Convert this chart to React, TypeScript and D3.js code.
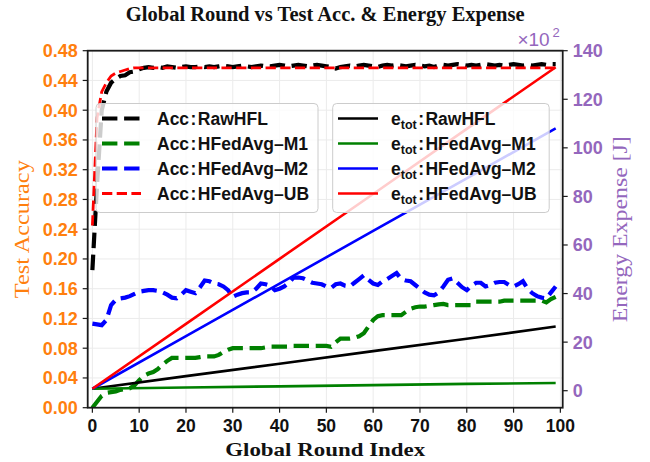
import * as d3 from 'd3';

// Global round index 0..99 (x categories)
const ROUNDS = d3.range(100);

// Test accuracy per round (left axis)
const ACC_RAWHFL = [
  0.185, 0.3, 0.4, 0.425, 0.437, 0.442, 0.446, 0.447, 0.451, 0.452,
  0.455, 0.457, 0.458, 0.457, 0.458, 0.457, 0.459, 0.458, 0.457, 0.458,
  0.459, 0.458, 0.458, 0.459, 0.458, 0.459, 0.458, 0.459, 0.46, 0.459,
  0.458, 0.459, 0.46, 0.459, 0.458, 0.459, 0.46, 0.459, 0.459, 0.46,
  0.461, 0.46, 0.459, 0.46, 0.461, 0.46, 0.459, 0.46, 0.461, 0.46,
  0.459, 0.458, 0.456, 0.458, 0.459, 0.46, 0.459, 0.46, 0.461, 0.46,
  0.459, 0.458, 0.46, 0.461, 0.46, 0.461, 0.46, 0.459, 0.46, 0.461,
  0.46, 0.459, 0.46, 0.458, 0.46, 0.461, 0.46, 0.461, 0.462, 0.461,
  0.46, 0.461, 0.46, 0.461, 0.462, 0.461, 0.46, 0.461, 0.46, 0.461,
  0.462, 0.461, 0.46, 0.461, 0.46, 0.461, 0.462, 0.461, 0.462, 0.462,
];
const ACC_M1 = [
  0.0, 0.008, 0.016, 0.02, 0.021, 0.022, 0.024, 0.025, 0.026, 0.03,
  0.037, 0.043, 0.046, 0.048, 0.052, 0.058, 0.063, 0.067, 0.067, 0.067,
  0.067, 0.067, 0.067, 0.068, 0.069, 0.069, 0.069, 0.071, 0.075, 0.078,
  0.08, 0.08, 0.08, 0.08, 0.08, 0.08, 0.08, 0.081, 0.082, 0.082,
  0.082, 0.082, 0.082, 0.083, 0.083, 0.083, 0.083, 0.083, 0.083, 0.083,
  0.083, 0.082, 0.088, 0.093, 0.093, 0.093, 0.094, 0.096, 0.1, 0.109,
  0.118, 0.123, 0.1245, 0.1245, 0.1245, 0.1245, 0.1245, 0.129, 0.133, 0.135,
  0.136, 0.136, 0.137, 0.138, 0.139, 0.1395, 0.138, 0.138, 0.138, 0.138,
  0.138, 0.138, 0.1425, 0.1425, 0.1425, 0.1425, 0.1425, 0.1425, 0.144, 0.144,
  0.144, 0.144, 0.144, 0.144, 0.144, 0.144, 0.144, 0.1415, 0.146, 0.149,
];
const ACC_M2 = [
  0.113, 0.112, 0.111, 0.118, 0.138, 0.145, 0.147, 0.148, 0.15, 0.153,
  0.156, 0.157, 0.158, 0.158, 0.157, 0.155, 0.152, 0.148, 0.147, 0.152,
  0.158, 0.156, 0.154, 0.162, 0.171, 0.17, 0.167, 0.166, 0.163, 0.158,
  0.149, 0.152, 0.154, 0.155, 0.155, 0.16, 0.167, 0.166, 0.164, 0.158,
  0.16, 0.163, 0.168, 0.175, 0.175, 0.174, 0.171, 0.168, 0.167, 0.166,
  0.163, 0.161, 0.166, 0.167, 0.164, 0.163, 0.168, 0.173, 0.178, 0.172,
  0.167, 0.165, 0.17, 0.173, 0.177, 0.181, 0.173, 0.171, 0.17, 0.165,
  0.16, 0.155, 0.152, 0.151, 0.155, 0.163, 0.172, 0.174, 0.168, 0.162,
  0.158, 0.164, 0.168, 0.168, 0.163, 0.165, 0.168, 0.169, 0.169, 0.165,
  0.163, 0.166, 0.17, 0.16, 0.154, 0.15, 0.148, 0.147, 0.155, 0.163,
];
const ACC_UB = [
  0.245, 0.39, 0.425, 0.437, 0.446, 0.45, 0.452, 0.454, 0.456, 0.457,
  0.457, 0.457, 0.457, 0.457, 0.457, 0.457, 0.457, 0.457, 0.457, 0.457,
  0.457, 0.457, 0.457, 0.457, 0.457, 0.457, 0.457, 0.457, 0.457, 0.457,
  0.457, 0.457, 0.457, 0.457, 0.457, 0.457, 0.457, 0.457, 0.457, 0.457,
  0.457, 0.457, 0.457, 0.457, 0.457, 0.457, 0.457, 0.457, 0.457, 0.457,
  0.457, 0.457, 0.457, 0.457, 0.457, 0.457, 0.457, 0.457, 0.457, 0.457,
  0.457, 0.457, 0.457, 0.457, 0.457, 0.457, 0.457, 0.457, 0.457, 0.457,
  0.457, 0.457, 0.457, 0.457, 0.457, 0.457, 0.457, 0.457, 0.457, 0.457,
  0.457, 0.457, 0.457, 0.457, 0.457, 0.457, 0.457, 0.457, 0.457, 0.457,
  0.457, 0.457, 0.457, 0.457, 0.457, 0.457, 0.457, 0.457, 0.457, 0.457,
];

// Total energy expense (right axis, in units of 10^2 J), read at a few rounds
const ENERGY_ROUNDS = [0, 20, 40, 60, 80, 99];
const ENERGY_RAWHFL = [0.8, 6.0, 11.1, 16.3, 21.4, 26.4];
const ENERGY_M1 = [0.8, 1.3, 1.8, 2.3, 2.8, 3.2];
const ENERGY_M2 = [0.8, 22.5, 44.1, 65.8, 87.4, 108];
const ENERGY_UB = [0.8, 27.5, 54.3, 81.0, 107.8, 133.2];

const METHODS = ['RawHFL', 'HFedAvg\u2013M1', 'HFedAvg\u2013M2', 'HFedAvg\u2013UB'];
const METHOD_COLORS = ['#000000', '#008000', '#0000ff', '#ff0000'];

const X_TICKS = d3.range(0, 101, 10);
const ACC_TICKS = [0, 0.04, 0.08, 0.12, 0.16, 0.2, 0.24, 0.28, 0.32, 0.36, 0.4, 0.44, 0.48];
const ENERGY_TICKS = [0, 20, 40, 60, 80, 100, 120, 140];

const WIDTH = 650;
const HEIGHT = 462;
const PLOT = { left: 87.7, right: 562.7, top: 50.7, bottom: 407.7 };

const ORANGE = '#ff7f0e';
const PURPLE = '#9467bd';
const SERIF = '"Liberation Serif", "DejaVu Serif", serif';
const SANS = '"Liberation Sans", Arial, sans-serif';

const THICK_DASH = { width: 4.2, dash: '15.4 6.7' };
const THIN_DASH = { width: 2.8, dash: '10.3 4.4' };

export default function App() {
  const x = d3.scaleLinear().domain([-1, 100.5]).range([PLOT.left, PLOT.right]);
  const yAcc = d3.scaleLinear().domain([0, 0.48]).range([PLOT.bottom, PLOT.top]);
  const yEnergy = d3.scaleLinear().domain([-7, 140]).range([PLOT.bottom, PLOT.top]);

  const accLine = d3
    .line<number>()
    .x((_, i) => x(ROUNDS[i]))
    .y((d) => yAcc(d));
  const energyLine = d3
    .line<number>()
    .x((_, i) => x(ENERGY_ROUNDS[i]))
    .y((d) => yEnergy(d));

  const accSeries = [ACC_RAWHFL, ACC_M1, ACC_M2, ACC_UB];
  const energySeries = [ENERGY_RAWHFL, ENERGY_M1, ENERGY_M2, ENERGY_UB];
  const accStyle = [THICK_DASH, THICK_DASH, THICK_DASH, THIN_DASH];

  const rowY = [118.5, 143.5, 168.5, 193.5];
  const midY = (PLOT.top + PLOT.bottom) / 2;

  return (
    <div style={{ position: 'fixed', left: 0, top: 0 }}>
      <svg width={WIDTH} height={HEIGHT} viewBox={`0 0 ${WIDTH} ${HEIGHT}`} style={{ display: 'block', background: '#fff' }}>
        <defs>
          <clipPath id="plot-clip">
            <rect x={PLOT.left} y={PLOT.top} width={PLOT.right - PLOT.left} height={PLOT.bottom - PLOT.top} />
          </clipPath>
        </defs>

        {/* grid */}
        <g stroke="#ebebeb" strokeWidth={1}>
          {X_TICKS.map((t) => (
            <line key={`gx${t}`} x1={x(t)} x2={x(t)} y1={PLOT.top} y2={PLOT.bottom} />
          ))}
          {ACC_TICKS.map((t) => (
            <line key={`gy${t}`} x1={PLOT.left} x2={PLOT.right} y1={yAcc(t)} y2={yAcc(t)} />
          ))}
        </g>

        {/* data */}
        <g clipPath="url(#plot-clip)" fill="none">
          {accSeries.map((s, i) => (
            <path
              key={`acc${i}`}
              d={accLine(s) ?? ''}
              stroke={METHOD_COLORS[i]}
              strokeWidth={accStyle[i].width}
              strokeDasharray={accStyle[i].dash}
            />
          ))}
          {energySeries.map((s, i) => (
            <path key={`en${i}`} d={energyLine(s) ?? ''} stroke={METHOD_COLORS[i]} strokeWidth={2.6} />
          ))}
        </g>

        {/* spines */}
        <rect
          x={PLOT.left}
          y={PLOT.top}
          width={PLOT.right - PLOT.left}
          height={PLOT.bottom - PLOT.top}
          fill="none"
          stroke="#1a1a1a"
          strokeWidth={1.8}
        />

        {/* x axis */}
        <g fontFamily={SANS} fontWeight="bold" fontSize={17.5} fill="#111" textAnchor="middle">
          {X_TICKS.map((t) => (
            <g key={`xt${t}`}>
              <line x1={x(t)} x2={x(t)} y1={PLOT.bottom} y2={PLOT.bottom + 5} stroke="#1a1a1a" strokeWidth={1.2} />
              <text x={x(t)} y={PLOT.bottom + 24.5}>
                {t}
              </text>
            </g>
          ))}
        </g>

        {/* left axis */}
        <g fontFamily={SANS} fontWeight="bold" fontSize={18} fill={ORANGE} textAnchor="end">
          {ACC_TICKS.map((t) => (
            <g key={`yt${t}`}>
              <line x1={PLOT.left - 5} x2={PLOT.left} y1={yAcc(t)} y2={yAcc(t)} stroke="#1a1a1a" strokeWidth={1.2} />
              <text x={PLOT.left - 10} y={yAcc(t) + 6.5}>
                {t.toFixed(2)}
              </text>
            </g>
          ))}
        </g>

        {/* right axis */}
        <g fontFamily={SANS} fontWeight="bold" fontSize={18} fill={PURPLE} textAnchor="start">
          {ENERGY_TICKS.map((t) => (
            <g key={`et${t}`}>
              <line x1={PLOT.right} x2={PLOT.right + 5} y1={yEnergy(t)} y2={yEnergy(t)} stroke="#1a1a1a" strokeWidth={1.2} />
              <text x={PLOT.right + 10} y={yEnergy(t) + 6.5}>
                {t}
              </text>
            </g>
          ))}
          <text x={PLOT.right - 13} y={PLOT.top - 5} textAnchor="end" fontWeight="normal" fontSize={19}>
            {'\u00d710'}
          </text>
          <text x={PLOT.right - 3} y={PLOT.top - 14} textAnchor="end" fontWeight="normal" fontSize={13}>
            2
          </text>
        </g>

        {/* titles */}
        <text x={(PLOT.left + PLOT.right) / 2} y={21} textAnchor="middle" fontFamily={SERIF} fontWeight="bold" fontSize={20.5} fill="#111">
          Global Round vs Test Acc. &amp; Energy Expense
        </text>
        <text
          x={(PLOT.left + PLOT.right) / 2}
          y={456}
          textAnchor="middle"
          fontFamily={SERIF}
          fontWeight="bold"
          fontSize={19}
          fill="#111"
          textLength={200}
          lengthAdjust="spacingAndGlyphs"
        >
          Global Round Index
        </text>
        <text
          transform={`translate(29, ${midY}) rotate(-90)`}
          textAnchor="middle"
          fontFamily={SERIF}
          fontSize={21}
          fill={ORANGE}
          textLength={138}
          lengthAdjust="spacingAndGlyphs"
        >
          Test Accuracy
        </text>
        <text
          transform={`translate(627, ${midY}) rotate(-90)`}
          textAnchor="middle"
          fontFamily={SERIF}
          fontSize={21}
          fill={PURPLE}
          textLength={186}
          lengthAdjust="spacingAndGlyphs"
        >
          Energy Expense [J]
        </text>

        {/* legend: accuracy */}
        <g>
          <rect x={96} y={103.5} width={222} height={109} rx={4} fill="#fff" fillOpacity={0.8} stroke="#cccccc" strokeWidth={1} />
          {METHODS.map((m, i) => (
            <g key={`la${i}`}>
              <line
                x1={102}
                x2={141}
                y1={rowY[i]}
                y2={rowY[i]}
                stroke={METHOD_COLORS[i]}
                strokeWidth={accStyle[i].width}
                strokeDasharray={accStyle[i].dash}
              />
              <text x={157} y={rowY[i] + 6.5} fontFamily={SANS} fontWeight="bold" fontSize={17.5} fill="#111">
                {`Acc\u200a:\u200a${m}`}
              </text>
            </g>
          ))}
        </g>

        {/* legend: energy */}
        <g>
          <rect x={332.7} y={103.5} width={216.5} height={109} rx={4} fill="#fff" fillOpacity={0.8} stroke="#cccccc" strokeWidth={1} />
          {METHODS.map((m, i) => (
            <g key={`le${i}`}>
              <line x1={338} x2={378} y1={rowY[i]} y2={rowY[i]} stroke={METHOD_COLORS[i]} strokeWidth={2.6} />
              <text x={391} y={rowY[i] + 6.5} fontFamily={SANS} fontWeight="bold" fontSize={17.5} fill="#111">
                e
                <tspan fontSize={12.5} dy={4}>
                  tot
                </tspan>
                <tspan dy={-4}>{`\u200a:\u200a${m}`}</tspan>
              </text>
            </g>
          ))}
        </g>
      </svg>
    </div>
  );
}
